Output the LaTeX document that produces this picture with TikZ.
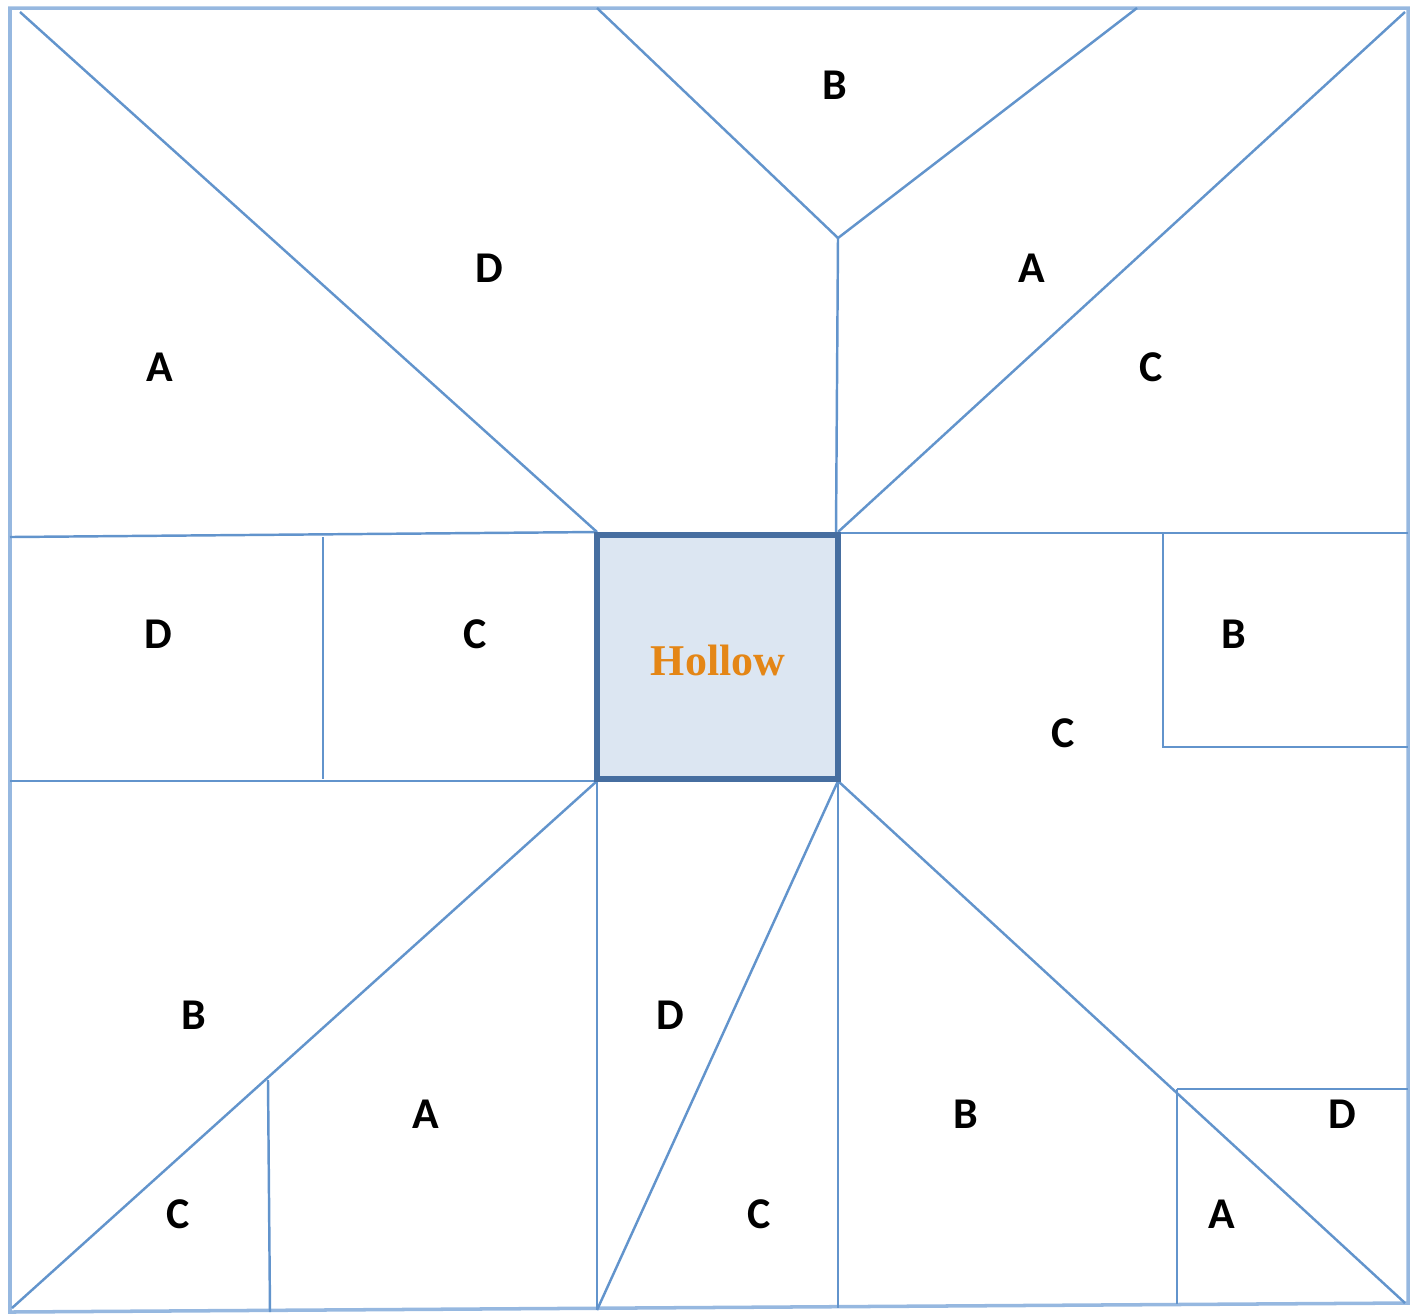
\documentclass[tikz,border=0pt]{standalone}
\usepackage{fontspec}
\setmainfont{Carlito}
\newfontfamily\hollowfont{Liberation Serif}
\usetikzlibrary{positioning}
\definecolor{seam}{RGB}{98,148,204}
\definecolor{frameblue}{RGB}{150,184,224}
\definecolor{hollowedge}{RGB}{70,110,160}
\definecolor{hollowfill}{RGB}{220,230,242}
\definecolor{hollowtxt}{RGB}{228,134,22}
\tikzset{
  cut/.style={draw=seam,line width=0.7pt},
  rim/.style={draw=frameblue,line width=1pt},
  part/.style={font=\fontsize{12.5}{14}\selectfont\bfseries,inner sep=0pt},
  hollowbox/.style={draw=hollowedge,fill=hollowfill,line width=1.8pt,inner sep=0pt},
  hollowtext/.style={font=\hollowfont\fontsize{12.5}{14}\selectfont\bfseries,text=hollowtxt},
}

\begin{document}
\begin{tikzpicture}[x=0.1mm,y=-0.1mm]
  \useasboundingbox (0,0) rectangle (1416,1314);

  % --- outer frame --------------------------------------------------------
  \draw[rim] (10,8) -- (1408,8) -- (1408,1303) -- (10,1312) -- cycle;

  % --- top half -----------------------------------------------------------
  \coordinate (apex) at (838,238);
  \draw[cut] (20,12) -- (597,532);
  \draw[cut] (10,537) -- (597,532);
  \draw[cut] (597,8) -- (apex) -- (1137,8);
  \draw[cut] (apex) -- (836,532);
  \draw[cut] (838,532) -- (1405,12);
  \draw[cut] (838,533) -- (1408,533);

  % --- middle band --------------------------------------------------------
  \draw[cut] (10,781) -- (597,781);
  \draw[cut] (323,537) -- (323,779);
  \draw[cut] (1163,533) -- (1163,747) -- (1408,747);

  % --- bottom half --------------------------------------------------------
  \draw[cut] (597,781) -- (12,1308);
  \draw[cut] (268,1080) -- (270,1312);
  \draw[cut] (597,781) -- (597,1310);
  \draw[cut] (838,781) -- (597,1310);
  \draw[cut] (838,781) -- (838,1308);
  \draw[cut] (838,781) -- (1405,1303);
  \draw[cut] (1177,1089) -- (1408,1089);
  \draw[cut] (1177,1089) -- (1177,1304);

  % --- hollow centre ------------------------------------------------------
  \node[hollowbox,minimum width=24.1mm,minimum height=24.4mm] (hollow) at (717.5,657) {};
  \node[hollowtext] (hollowlbl) at (718,660) {Hollow};

  % --- part labels --------------------------------------------------------
  \node[part] (tB)  at (835,85)   {B};
  \node[part] (tD)  at (489,268)  {D};
  \node[part] (tA)  at (1032,268) {A};
  \node[part] (lA)  at (160,367)  {A};
  \node[part] (rC)  at (1151,367) {C};
  \node[part] (mD)  at (158,634)  {D};
  \node[part] (mC)  at (475,634)  {C};
  \node[part] (mB)  at (1234,634) {B};
  \node[part] (rC2) at (1063,733) {C};
  \node[part] (bB)  at (194,1015) {B};
  \node[part] (bD)  at (670,1015) {D};
  \node[part] (bA)  at (426,1114) {A};
  \node[part] (bB2) at (966,1114) {B};
  \node[part] (bD2) at (1342,1114) {D};
  \node[part] (bC)  at (178,1214) {C};
  \node[part] (bC2) at (759,1214) {C};
  \node[part] (bA2) at (1222,1214) {A};

\end{tikzpicture}
\end{document}
